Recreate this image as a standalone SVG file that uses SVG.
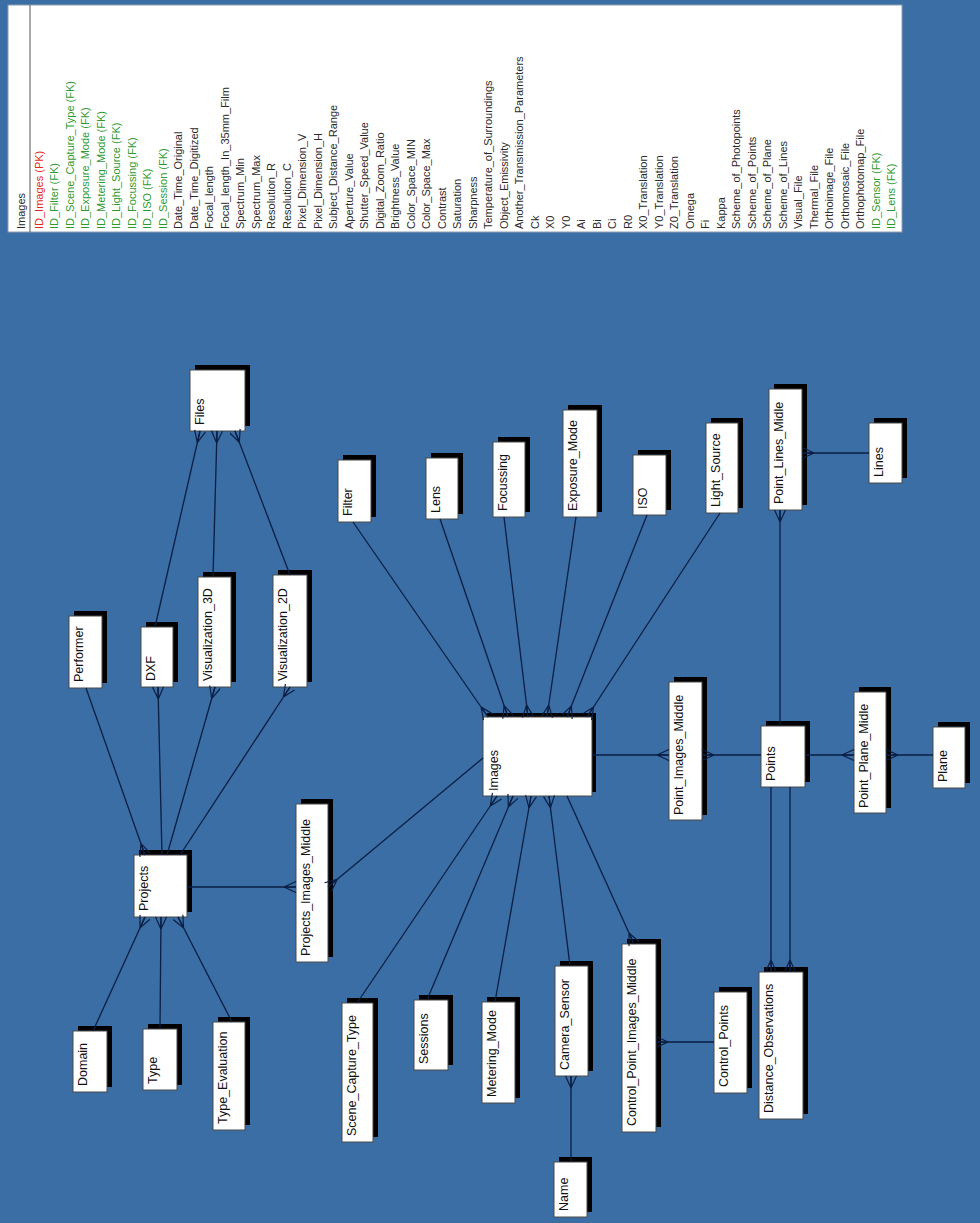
<svg xmlns="http://www.w3.org/2000/svg" width="980" height="1223" viewBox="0 0 980 1223">
<style>
.bg{fill:#3a6ea5}
.sh{fill:#000}
.bx{fill:#fff;stroke:#4a4a4a;stroke-width:1}
.lb{font-family:"Liberation Sans",Arial,sans-serif;font-size:12.5px;fill:#111}
.at{font-family:"Liberation Sans",Arial,sans-serif;font-size:11px;fill:#2a2a2a}
.pk{fill:#e02a22}
.fk{fill:#2f9a2f}
.cn line{stroke:#0b1e44;stroke-width:1.3;fill:none}
</style>
<defs>
<marker id="crow" markerWidth="14" markerHeight="12" refX="13" refY="6" orient="auto" markerUnits="userSpaceOnUse" viewBox="0 0 14 12">
<path d="M1,6 L13,0.5 M1,6 L13,6 M1,6 L13,11.5" stroke="#0b1e44" stroke-width="1.2" fill="none"/>
</marker>
</defs>
<rect class="bg" x="0" y="0" width="980" height="1223"/>
<g id="images-table">
<rect x="8" y="5" width="894" height="227" fill="#fff" stroke="#8d9cb3" stroke-width="1"/>
<line x1="30" y1="5" x2="30" y2="232" stroke="#555" stroke-width="1"/>
<text class="at" transform="translate(25,229) rotate(-90)">Images</text>
<text class="at pk" transform="translate(42.5,229) rotate(-90)">ID_Images (PK)</text>
<text class="at fk" transform="translate(58,229) rotate(-90)">ID_Filter (FK)</text>
<text class="at fk" transform="translate(73.5,229) rotate(-90)">ID_Scene_Capture_Type (FK)</text>
<text class="at fk" transform="translate(89,229) rotate(-90)">ID_Exposure_Mode (FK)</text>
<text class="at fk" transform="translate(104.5,229) rotate(-90)">ID_Metering_Mode (FK)</text>
<text class="at fk" transform="translate(120,229) rotate(-90)">ID_Light_Source (FK)</text>
<text class="at fk" transform="translate(135.5,229) rotate(-90)">ID_Focussing (FK)</text>
<text class="at fk" transform="translate(151,229) rotate(-90)">ID_ISO (FK)</text>
<text class="at fk" transform="translate(166.5,229) rotate(-90)">ID_Session (FK)</text>
<text class="at" transform="translate(182,229) rotate(-90)">Date_Time_Original</text>
<text class="at" transform="translate(197.5,229) rotate(-90)">Date_Time_Digitized</text>
<text class="at" transform="translate(213,229) rotate(-90)">Focal_length</text>
<text class="at" transform="translate(228.5,229) rotate(-90)">Focal_length_In_35mm_Film</text>
<text class="at" transform="translate(244,229) rotate(-90)">Spectrum_Min</text>
<text class="at" transform="translate(259.5,229) rotate(-90)">Spectrum_Max</text>
<text class="at" transform="translate(275,229) rotate(-90)">Resolution_R</text>
<text class="at" transform="translate(290.5,229) rotate(-90)">Resolution_C</text>
<text class="at" transform="translate(306,229) rotate(-90)">Pixel_Dimension_V</text>
<text class="at" transform="translate(321.5,229) rotate(-90)">Pixel_Dimension_H</text>
<text class="at" transform="translate(337,229) rotate(-90)">Subject_Distance_Range</text>
<text class="at" transform="translate(352.5,229) rotate(-90)">Aperture_Value</text>
<text class="at" transform="translate(368,229) rotate(-90)">Shutter_Speed_Value</text>
<text class="at" transform="translate(383.5,229) rotate(-90)">Digital_Zoom_Ratio</text>
<text class="at" transform="translate(399,229) rotate(-90)">Brightness_Value</text>
<text class="at" transform="translate(414.5,229) rotate(-90)">Color_Space_MIN</text>
<text class="at" transform="translate(430,229) rotate(-90)">Color_Space_Max</text>
<text class="at" transform="translate(445.5,229) rotate(-90)">Contrast</text>
<text class="at" transform="translate(461,229) rotate(-90)">Saturation</text>
<text class="at" transform="translate(476.5,229) rotate(-90)">Sharpness</text>
<text class="at" transform="translate(492,229) rotate(-90)">Temperature_of_Surroundings</text>
<text class="at" transform="translate(507.5,229) rotate(-90)">Object_Emissivity</text>
<text class="at" transform="translate(523,229) rotate(-90)">Another_Transmission_Parameters</text>
<text class="at" transform="translate(538.5,229) rotate(-90)">Ck</text>
<text class="at" transform="translate(554,229) rotate(-90)">X0</text>
<text class="at" transform="translate(569.5,229) rotate(-90)">Y0</text>
<text class="at" transform="translate(585,229) rotate(-90)">Ai</text>
<text class="at" transform="translate(600.5,229) rotate(-90)">Bi</text>
<text class="at" transform="translate(616,229) rotate(-90)">Ci</text>
<text class="at" transform="translate(631.5,229) rotate(-90)">R0</text>
<text class="at" transform="translate(647,229) rotate(-90)">X0_Translation</text>
<text class="at" transform="translate(662.5,229) rotate(-90)">Y0_Translation</text>
<text class="at" transform="translate(678,229) rotate(-90)">Z0_Translation</text>
<text class="at" transform="translate(693.5,229) rotate(-90)">Omega</text>
<text class="at" transform="translate(709,229) rotate(-90)">Fi</text>
<text class="at" transform="translate(724.5,229) rotate(-90)">Kappa</text>
<text class="at" transform="translate(740,229) rotate(-90)">Scheme_of_Photopoints</text>
<text class="at" transform="translate(755.5,229) rotate(-90)">Scheme_of_Points</text>
<text class="at" transform="translate(771,229) rotate(-90)">Scheme_of_Plane</text>
<text class="at" transform="translate(786.5,229) rotate(-90)">Scheme_of_Lines</text>
<text class="at" transform="translate(802,229) rotate(-90)">Visual_File</text>
<text class="at" transform="translate(817.5,229) rotate(-90)">Thermal_File</text>
<text class="at" transform="translate(833,229) rotate(-90)">Orthoimage_File</text>
<text class="at" transform="translate(848.5,229) rotate(-90)">Orthomosaic_File</text>
<text class="at" transform="translate(864,229) rotate(-90)">Orthophotomap_File</text>
<text class="at fk" transform="translate(879.5,229) rotate(-90)">ID_Sensor (FK)</text>
<text class="at fk" transform="translate(895,229) rotate(-90)">ID_Lens (FK)</text>
</g>
<g id="nodes">
<g id="files"><rect class="sh" x="195" y="365" width="55" height="61"/><rect class="bx" x="190" y="370" width="55" height="61"/><text class="lb" transform="translate(204,425) rotate(-90)">Files</text></g>
<g id="filter"><rect class="sh" x="343" y="455" width="33" height="62"/><rect class="bx" x="338" y="460" width="33" height="62"/><text class="lb" transform="translate(352,516) rotate(-90)">Filter</text></g>
<g id="performer"><rect class="sh" x="74" y="611" width="33" height="72"/><rect class="bx" x="69" y="616" width="33" height="72"/><text class="lb" transform="translate(83,682) rotate(-90)">Performer</text></g>
<g id="dxf"><rect class="sh" x="146" y="622" width="32" height="60"/><rect class="bx" x="141" y="627" width="32" height="60"/><text class="lb" transform="translate(155,681) rotate(-90)">DXF</text></g>
<g id="visualization-3d"><rect class="sh" x="203" y="572" width="33" height="110"/><rect class="bx" x="198" y="577" width="33" height="110"/><text class="lb" transform="translate(212,681) rotate(-90)">Visualization_3D</text></g>
<g id="visualization-2d"><rect class="sh" x="278" y="570" width="34" height="112"/><rect class="bx" x="273" y="575" width="34" height="112"/><text class="lb" transform="translate(287,681) rotate(-90)">Visualization_2D</text></g>
<g id="lens"><rect class="sh" x="431" y="453" width="32" height="61"/><rect class="bx" x="426" y="458" width="32" height="61"/><text class="lb" transform="translate(440,513) rotate(-90)">Lens</text></g>
<g id="focussing"><rect class="sh" x="498" y="437" width="32" height="75"/><rect class="bx" x="493" y="442" width="32" height="75"/><text class="lb" transform="translate(507,511) rotate(-90)">Focussing</text></g>
<g id="exposure-mode"><rect class="sh" x="568" y="405" width="34" height="107"/><rect class="bx" x="563" y="410" width="34" height="107"/><text class="lb" transform="translate(577,511) rotate(-90)">Exposure_Mode</text></g>
<g id="iso"><rect class="sh" x="638" y="450" width="33" height="60"/><rect class="bx" x="633" y="455" width="33" height="60"/><text class="lb" transform="translate(647,509) rotate(-90)">ISO</text></g>
<g id="light-source"><rect class="sh" x="711" y="418" width="32" height="90"/><rect class="bx" x="706" y="423" width="32" height="90"/><text class="lb" transform="translate(720,507) rotate(-90)">Light_Source</text></g>
<g id="point-lines-midle"><rect class="sh" x="774" y="384" width="33" height="121"/><rect class="bx" x="769" y="389" width="33" height="121"/><text class="lb" transform="translate(783,504) rotate(-90)">Point_Lines_Midle</text></g>
<g id="lines"><rect class="sh" x="874" y="418" width="33" height="60"/><rect class="bx" x="869" y="423" width="33" height="60"/><text class="lb" transform="translate(883,477) rotate(-90)">Lines</text></g>
<g id="images"><rect class="sh" x="487" y="713" width="109" height="79"/><rect class="bx" x="483" y="717" width="109" height="79"/><text class="lb" transform="translate(498,791) rotate(-90)">Images</text></g>
<g id="point-images-middle"><rect class="sh" x="674" y="677" width="33" height="138"/><rect class="bx" x="669" y="682" width="33" height="138"/><text class="lb" transform="translate(683,815) rotate(-90)">Point_Images_Middle</text></g>
<g id="points"><rect class="sh" x="766" y="721" width="44" height="61"/><rect class="bx" x="761" y="726" width="44" height="61"/><text class="lb" transform="translate(775,781) rotate(-90)">Points</text></g>
<g id="point-plane-midle"><rect class="sh" x="859" y="687" width="32" height="121"/><rect class="bx" x="854" y="692" width="32" height="121"/><text class="lb" transform="translate(868,808) rotate(-90)">Point_Plane_Midle</text></g>
<g id="plane"><rect class="sh" x="938" y="722" width="32" height="61"/><rect class="bx" x="933" y="727" width="32" height="61"/><text class="lb" transform="translate(947,782) rotate(-90)">Plane</text></g>
<g id="projects"><rect class="sh" x="139" y="850" width="53" height="62"/><rect class="bx" x="134" y="855" width="53" height="62"/><text class="lb" transform="translate(148,911) rotate(-90)">Projects</text></g>
<g id="projects-images-middle"><rect class="sh" x="301" y="799" width="32" height="158"/><rect class="bx" x="296" y="804" width="32" height="158"/><text class="lb" transform="translate(310,956) rotate(-90)">Projects_Images_Middle</text></g>
<g id="domain"><rect class="sh" x="78" y="1026" width="34" height="61"/><rect class="bx" x="73" y="1031" width="34" height="61"/><text class="lb" transform="translate(87,1086) rotate(-90)">Domain</text></g>
<g id="type"><rect class="sh" x="148" y="1024" width="34" height="61"/><rect class="bx" x="143" y="1029" width="34" height="61"/><text class="lb" transform="translate(157,1084) rotate(-90)">Type</text></g>
<g id="type-evaluation"><rect class="sh" x="218" y="1017" width="32" height="108"/><rect class="bx" x="213" y="1022" width="32" height="108"/><text class="lb" transform="translate(227,1124) rotate(-90)">Type_Evaluation</text></g>
<g id="scene-capture-type"><rect class="sh" x="347" y="998" width="31" height="139"/><rect class="bx" x="342" y="1003" width="31" height="139"/><text class="lb" transform="translate(356,1136) rotate(-90)">Scene_Capture_Type</text></g>
<g id="sessions"><rect class="sh" x="419" y="995" width="34" height="70"/><rect class="bx" x="414" y="1000" width="34" height="70"/><text class="lb" transform="translate(428,1064) rotate(-90)">Sessions</text></g>
<g id="metering-mode"><rect class="sh" x="487" y="997" width="33" height="101"/><rect class="bx" x="482" y="1002" width="33" height="101"/><text class="lb" transform="translate(496,1097) rotate(-90)">Metering_Mode</text></g>
<g id="camera-sensor"><rect class="sh" x="560" y="961" width="33" height="110"/><rect class="bx" x="555" y="966" width="33" height="110"/><text class="lb" transform="translate(569,1070) rotate(-90)">Camera_Sensor</text></g>
<g id="control-point-images-middle"><rect class="sh" x="627" y="939" width="34" height="188"/><rect class="bx" x="622" y="944" width="34" height="188"/><text class="lb" transform="translate(636,1126) rotate(-90)">Control_Point_Images_Middle</text></g>
<g id="control-points"><rect class="sh" x="719" y="987" width="33" height="101"/><rect class="bx" x="714" y="992" width="33" height="101"/><text class="lb" transform="translate(728,1087) rotate(-90)">Control_Points</text></g>
<g id="distance-observations"><rect class="sh" x="764" y="967" width="44" height="147"/><rect class="bx" x="759" y="972" width="44" height="147"/><text class="lb" transform="translate(773,1113) rotate(-90)">Distance_Observations</text></g>
<g id="name"><rect class="sh" x="559" y="1157" width="33" height="55"/><rect class="bx" x="554" y="1162" width="33" height="55"/><text class="lb" transform="translate(568,1211) rotate(-90)">Name</text></g>
</g>
<g id="connectors" class="cn">
<line x1="155" y1="627" x2="200" y2="431" marker-end="url(#crow)"/>
<line x1="213" y1="577" x2="217" y2="431" marker-end="url(#crow)"/>
<line x1="290" y1="575" x2="235" y2="431" marker-end="url(#crow)"/>
<line x1="86" y1="688" x2="145" y2="855" marker-end="url(#crow)"/>
<line x1="162" y1="855" x2="158" y2="687" marker-end="url(#crow)"/>
<line x1="167" y1="855" x2="215" y2="687" marker-end="url(#crow)"/>
<line x1="180" y1="855" x2="290" y2="687" marker-end="url(#crow)"/>
<line x1="93" y1="1031" x2="145" y2="917" marker-end="url(#crow)"/>
<line x1="160" y1="1029" x2="161" y2="917" marker-end="url(#crow)"/>
<line x1="232" y1="1022" x2="178" y2="917" marker-end="url(#crow)"/>
<line x1="187" y1="887" x2="296" y2="887" marker-end="url(#crow)"/>
<line x1="483" y1="758" x2="328" y2="887" marker-end="url(#crow)"/>
<line x1="353" y1="522" x2="488" y2="717" marker-end="url(#crow)"/>
<line x1="440" y1="519" x2="508" y2="717" marker-end="url(#crow)"/>
<line x1="504" y1="517" x2="528" y2="717" marker-end="url(#crow)"/>
<line x1="576" y1="517" x2="547" y2="717" marker-end="url(#crow)"/>
<line x1="647" y1="515" x2="567" y2="717" marker-end="url(#crow)"/>
<line x1="720" y1="513" x2="587" y2="717" marker-end="url(#crow)"/>
<line x1="357" y1="1003" x2="497" y2="796" marker-end="url(#crow)"/>
<line x1="427" y1="1000" x2="513" y2="796" marker-end="url(#crow)"/>
<line x1="495" y1="1002" x2="531" y2="796" marker-end="url(#crow)"/>
<line x1="570" y1="966" x2="549" y2="796" marker-end="url(#crow)"/>
<line x1="567" y1="796" x2="634" y2="944" marker-end="url(#crow)"/>
<line x1="571" y1="1162" x2="571" y2="1076" marker-end="url(#crow)"/>
<line x1="714" y1="1042" x2="656" y2="1042" marker-end="url(#crow)"/>
<line x1="592" y1="755" x2="669" y2="755" marker-end="url(#crow)"/>
<line x1="761" y1="755" x2="702" y2="755" marker-end="url(#crow)"/>
<line x1="805" y1="755" x2="854" y2="755" marker-end="url(#crow)"/>
<line x1="933" y1="755" x2="886" y2="755" marker-end="url(#crow)"/>
<line x1="780" y1="726" x2="780" y2="510" marker-end="url(#crow)"/>
<line x1="869" y1="453" x2="802" y2="453" marker-end="url(#crow)"/>
<line x1="771" y1="787" x2="771" y2="972" marker-end="url(#crow)"/>
<line x1="790" y1="787" x2="790" y2="972" marker-end="url(#crow)"/>
</g>
</svg>
